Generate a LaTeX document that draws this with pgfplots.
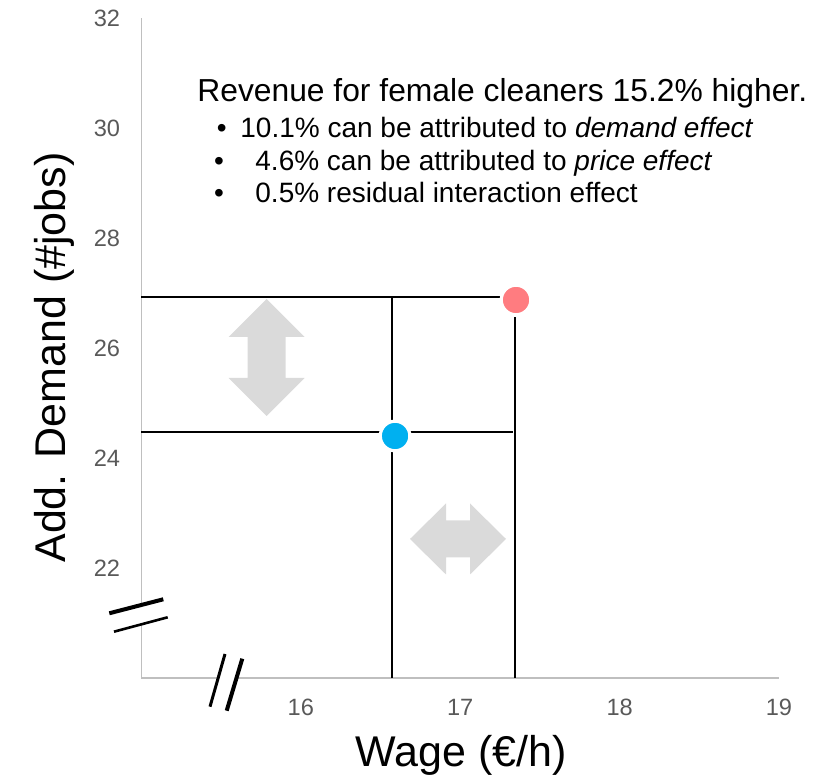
\documentclass[border=0pt]{standalone}
\usepackage{pgfplots}
\pgfplotsset{compat=1.18}
\usepackage{fontspec}
\setmainfont{Liberation Sans}
\definecolor{axgray}{HTML}{BFBFBF}
\definecolor{tickgray}{HTML}{595959}
\definecolor{arrowgray}{HTML}{DADADA}
\definecolor{myred}{HTML}{FF7C80}
\definecolor{myblue}{HTML}{00B0F0}
\begin{document}
\begin{tikzpicture}
\useasboundingbox (-70.75pt,-50.5pt) rectangle (336.75pt,339pt);
\begin{axis}[
  at={(0,0)}, anchor=south west,
  scale only axis, width=318.75pt, height=330pt,
  xmin=15, xmax=19, ymin=20, ymax=32,
  axis lines*=left,
  axis line style={axgray, line width=0.8pt, -},
  xtick={16,17,18,19}, ytick={22,24,26,28,30,32},
  major tick length=0pt,
  /pgf/number format/assume math mode=true,
  tick label style={font=\fontsize{11.8}{14}\selectfont, text=tickgray, inner sep=0pt},
  xticklabel style={anchor=north, yshift=-10.5pt},
  yticklabel style={anchor=east, xshift=-10.5pt},
  xlabel={Wage (€/h)}, ylabel={Add. Demand (\#jobs)},
  label style={font=\fontsize{21.5}{24}\selectfont, inner sep=0pt},
  xlabel style={at={(axis description cs:0.502,-0.1348)}, anchor=base},
  ylabel style={at={(axis description cs:-0.12,0.4856)}, anchor=base, rotate=0},
  clip=false,
]
\addplot[black, line width=1pt] coordinates {(15,26.93) (17.25,26.93)};
\addplot[black, line width=1pt] coordinates {(16.57,26.93) (16.57,20)};
\addplot[black, line width=1pt] coordinates {(15,24.48) (17.33,24.48)};
\addplot[black, line width=1pt] coordinates {(17.343,26.56) (17.343,20)};
\addplot[only marks, mark=*, mark size=7.4pt, mark options={fill=myblue, draw=white, line width=1.6pt}] coordinates {(16.591,24.40)};
\addplot[only marks, mark=*, mark size=7.4pt, mark options={fill=myred, draw=white, line width=1.6pt}] coordinates {(17.350,26.873)};
\end{axis}
% double arrows
\fill[arrowgray] (62.6pt,189.5pt) -- (81.6pt,170.5pt) -- (72.1pt,170.5pt) -- (72.1pt,150pt) -- (81.6pt,150pt) -- (62.6pt,131pt) -- (43.6pt,150pt) -- (53.1pt,150pt) -- (53.1pt,170.5pt) -- (43.6pt,170.5pt) -- cycle;
\fill[arrowgray] (134.25pt,69.5pt) -- (152.25pt,87.25pt) -- (152.25pt,78.75pt) -- (164.25pt,78.75pt) -- (164.25pt,87.25pt) -- (182.25pt,69.5pt) -- (164.25pt,51.75pt) -- (164.25pt,60.25pt) -- (152.25pt,60.25pt) -- (152.25pt,51.75pt) -- cycle;
% axis breaks
\fill[white] (-16.1pt,32.35pt) -- (10.9pt,39.35pt) -- (13.1pt,30.35pt) -- (-13.75pt,23.15pt) -- cycle;
\draw[black, line width=2pt] (-16.1pt,32.35pt) -- (10.9pt,39.35pt);
\draw[black, line width=1.3pt] (-13.75pt,23.15pt) -- (13.1pt,30.35pt);
\fill[white] (41.75pt,12pt) -- (34.25pt,-14.35pt) -- (42.6pt,-16.35pt) -- (50.4pt,9.65pt) -- cycle;
\draw[black, line width=1.5pt] (41.75pt,12pt) -- (34.25pt,-14.35pt);
\draw[black, line width=2pt] (50.4pt,9.65pt) -- (42.6pt,-16.35pt);
% annotation text
\node[anchor=base west, inner sep=0pt, font=\fontsize{15.9}{18}\selectfont] at (27.75pt,288pt) {Revenue for female cleaners 15.2\% higher.};
\begin{scope}[every node/.style={inner sep=0pt, font=\fontsize{14}{16}\selectfont}]
\node[anchor=base] at (40.1pt,270.25pt) {\textbullet};
\node[anchor=base west] at (49.25pt,270.25pt) {10.1\% can be attributed to \textit{demand effect}};
\node[anchor=base] at (38.75pt,253.75pt) {\textbullet};
\node[anchor=base west] at (56.75pt,253.75pt) {4.6\% can be attributed to \textit{price effect}};
\node[anchor=base] at (38.75pt,237.5pt) {\textbullet};
\node[anchor=base west] at (56.75pt,237.5pt) {0.5\% residual interaction effect};
\end{scope}
\end{tikzpicture}
\end{document}
